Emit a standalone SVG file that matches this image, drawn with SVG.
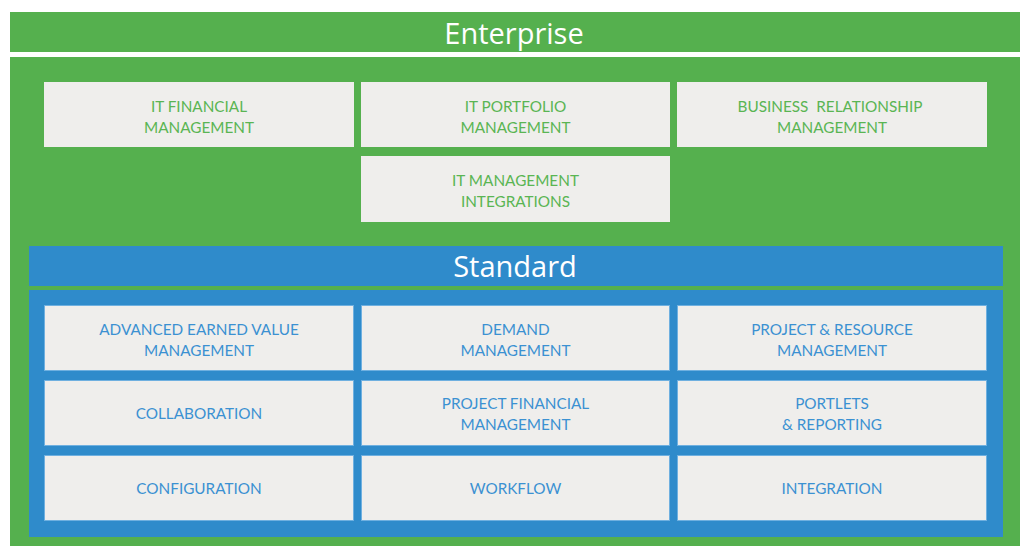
<svg xmlns="http://www.w3.org/2000/svg" width="1024" height="546" viewBox="0 0 1024 546">
<style>
.g{fill:#55b04e}
.b{fill:#2f8bcb}
.box{fill:#efeeec}
.sb{fill:#efeeec;stroke:#6fb0e0;stroke-width:1}
.t{font-family:Lato,"Liberation Sans",Arial,sans-serif;font-size:15.3px;text-anchor:middle}
.tg{fill:#5ab553}
.tb{fill:#3b91d2}
.h{font-family:"Open Sans","Liberation Sans",sans-serif;font-size:29px;fill:#ffffff;text-anchor:middle}
</style>
<rect width="1024" height="546" fill="#ffffff"/>
<g id="enterprise">
<rect class="g" x="10" y="12" width="1010" height="40"/>
<text class="h" x="514" y="44">Enterprise</text>
<rect class="g" x="10" y="57" width="1010" height="489"/>
</g>
<g id="it-financial"><rect class="box" x="44" y="82" width="310" height="65"/><text class="t tg" x="199" y="112">IT FINANCIAL</text><text class="t tg" x="199" y="133">MANAGEMENT</text></g>
<g id="it-portfolio"><rect class="box" x="361" y="82" width="309" height="65"/><text class="t tg" x="515.5" y="112">IT PORTFOLIO</text><text class="t tg" x="515.5" y="133">MANAGEMENT</text></g>
<g id="business-relationship"><rect class="box" x="677" y="82" width="310" height="65"/><text class="t tg" x="830" y="112" xml:space="preserve">BUSINESS  RELATIONSHIP</text><text class="t tg" x="832" y="133">MANAGEMENT</text></g>
<g id="it-management-integrations"><rect class="box" x="361" y="156" width="309" height="66"/><text class="t tg" x="515.5" y="186">IT MANAGEMENT</text><text class="t tg" x="515.5" y="207">INTEGRATIONS</text></g>
<g id="standard">
<rect class="b" x="29" y="246" width="974" height="40"/>
<text class="h" x="515" y="277">Standard</text>
<rect class="b" x="29" y="290" width="974" height="247"/>
</g>
<g id="aev"><rect class="sb" x="44.5" y="305.5" width="309" height="65"/><text class="t tb" x="199" y="335">ADVANCED EARNED VALUE</text><text class="t tb" x="199" y="356">MANAGEMENT</text></g>
<g id="demand"><rect class="sb" x="361.5" y="305.5" width="308" height="65"/><text class="t tb" x="515.5" y="335">DEMAND</text><text class="t tb" x="515.5" y="356">MANAGEMENT</text></g>
<g id="project-resource"><rect class="sb" x="677.5" y="305.5" width="309" height="65"/><text class="t tb" x="832" y="335">PROJECT &amp; RESOURCE</text><text class="t tb" x="832" y="356">MANAGEMENT</text></g>
<g id="collaboration"><rect class="sb" x="44.5" y="380.5" width="309" height="65"/><text class="t tb" x="199" y="419">COLLABORATION</text></g>
<g id="project-financial"><rect class="sb" x="361.5" y="380.5" width="308" height="65"/><text class="t tb" x="515.5" y="409">PROJECT FINANCIAL</text><text class="t tb" x="515.5" y="430">MANAGEMENT</text></g>
<g id="portlets"><rect class="sb" x="677.5" y="380.5" width="309" height="65"/><text class="t tb" x="832" y="409">PORTLETS</text><text class="t tb" x="832" y="430">&amp; REPORTING</text></g>
<g id="configuration"><rect class="sb" x="44.5" y="455.5" width="309" height="65"/><text class="t tb" x="199" y="494">CONFIGURATION</text></g>
<g id="workflow"><rect class="sb" x="361.5" y="455.5" width="308" height="65"/><text class="t tb" x="515.5" y="494">WORKFLOW</text></g>
<g id="integration"><rect class="sb" x="677.5" y="455.5" width="309" height="65"/><text class="t tb" x="832" y="494">INTEGRATION</text></g>
<g id="connectors"/>
</svg>
